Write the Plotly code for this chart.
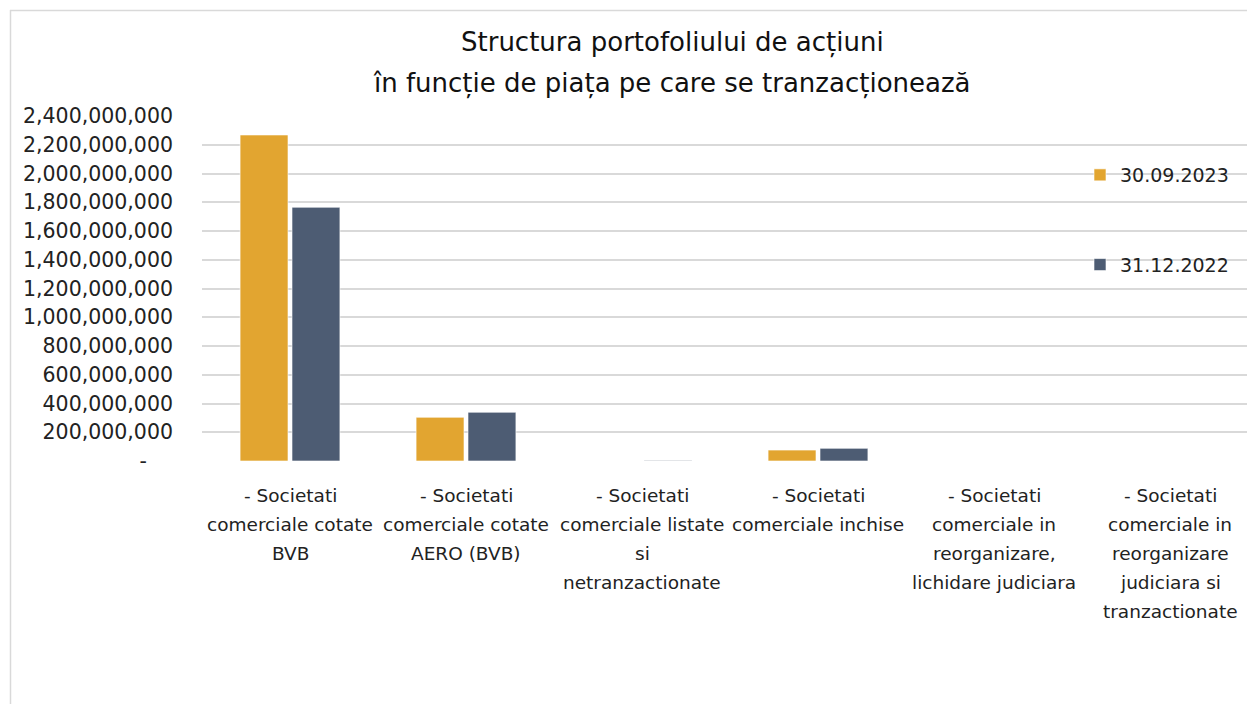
import plotly.graph_objects as go

categories = [
    "- Societati\ncomerciale cotate\nBVB",
    "- Societati\ncomerciale cotate\nAERO (BVB)",
    "- Societati\ncomerciale listate\nsi\nnetranzactionate",
    "- Societati\ncomerciale inchise",
    "- Societati\ncomerciale in\nreorganizare,\nlichidare judiciara",
    "- Societati\ncomerciale in\nreorganizare\njudiciara si\ntranzactionate",
]
series_names = ["30.09.2023", "31.12.2022"]
values_2023 = [2268e6, 304e6, 0, 76e6, 0, 0]
values_2022 = [1765e6, 339e6, 3e6, 88e6, 0, 0]
ytick_vals = [i * 200e6 for i in range(13)]
ytick_text = ["-\u00a0\u00a0\u00a0\u00a0"] + [f"{int(v):,}" for v in ytick_vals[1:]]
title_lines = ["Structura portofoliului de acțiuni",
               "în funcție de piața pe care se tranzacționează"]

W, H = 1247, 704
L, R, T, B = 202, 0, 116, 243
pw, ph = W - L - R, H - T - B

FONT = "DejaVu Sans"
ORANGE = "#E2A530"
DARK = "#4D5C73"

x_idx = list(range(len(categories)))

fig = go.Figure()
fig.add_trace(go.Bar(x=x_idx, y=values_2023, name=series_names[0],
                     marker=dict(color=ORANGE, line=dict(color="white", width=0.6)),
                     legendgroup="a"))
fig.add_trace(go.Bar(x=x_idx, y=values_2022, name=series_names[1],
                     marker=dict(color=DARK, line=dict(color="white", width=0.6)),
                     legendgroup="b"))

annotations = []
for i, line in enumerate(title_lines):
    ypx = 42 + 42 * i
    annotations.append(dict(text=line, xref="paper", yref="paper",
                            x=(672 - L) / pw, y=(H - B - ypx) / ph,
                            xanchor="center", yanchor="middle", showarrow=False,
                            font=dict(family=FONT, size=26, color="#111111")))
for ci, cat in enumerate(categories):
    for li, line in enumerate(cat.split("\n")):
        ypx = 495 + 29 * li
        annotations.append(dict(text=line, xref="x", yref="paper",
                                x=ci, y=(H - B - ypx) / ph,
                                xanchor="center", yanchor="middle", showarrow=False,
                                font=dict(family=FONT, size=18.5, color="#222222")))

shapes = [
    dict(type="line", xref="paper", yref="paper",
         x0=(10 - L) / pw, x1=(W + 10 - L) / pw, y0=(H - B - 10.5) / ph, y1=(H - B - 10.5) / ph,
         line=dict(color="#d9d9d9", width=1.5)),
    dict(type="line", xref="paper", yref="paper",
         x0=(10.5 - L) / pw, x1=(10.5 - L) / pw, y0=(H - B - 10) / ph, y1=(H - B - 720) / ph,
         line=dict(color="#d9d9d9", width=1.5)),
]

fig.update_layout(
    width=W, height=H,
    margin=dict(l=L, r=R, t=T, b=B, pad=0),
    paper_bgcolor="white", plot_bgcolor="white",
    font=dict(family=FONT, size=17, color="#222222"),
    barmode="group", bargap=0.41, bargroupgap=0.077,
    showlegend=True,
    legend=dict(x=(1080 - L) / pw, y=(H - B - 156) / ph, xanchor="left", yanchor="top",
                bgcolor="rgba(0,0,0,0)", font=dict(family=FONT, size=19, color="#222222"),
                tracegroupgap=62, traceorder="grouped"),
    xaxis=dict(range=[-0.5, -0.5 + pw / 176], showticklabels=False, showgrid=False,
               zeroline=False, showline=False, fixedrange=True),
    yaxis=dict(range=[0, 2.4e9], tickvals=ytick_vals, ticktext=ytick_text,
               showgrid=True, gridcolor="#d9d9d9", gridwidth=1.5,
               zeroline=False, showline=False, ticklabelstandoff=28,
               tickfont=dict(family=FONT, size=20.5, color="#222222")),
    annotations=annotations,
    shapes=shapes,
)

fig.write_html("out.html", config={"displayModeBar": False},
               post_script="document.body.style.margin='0';")
